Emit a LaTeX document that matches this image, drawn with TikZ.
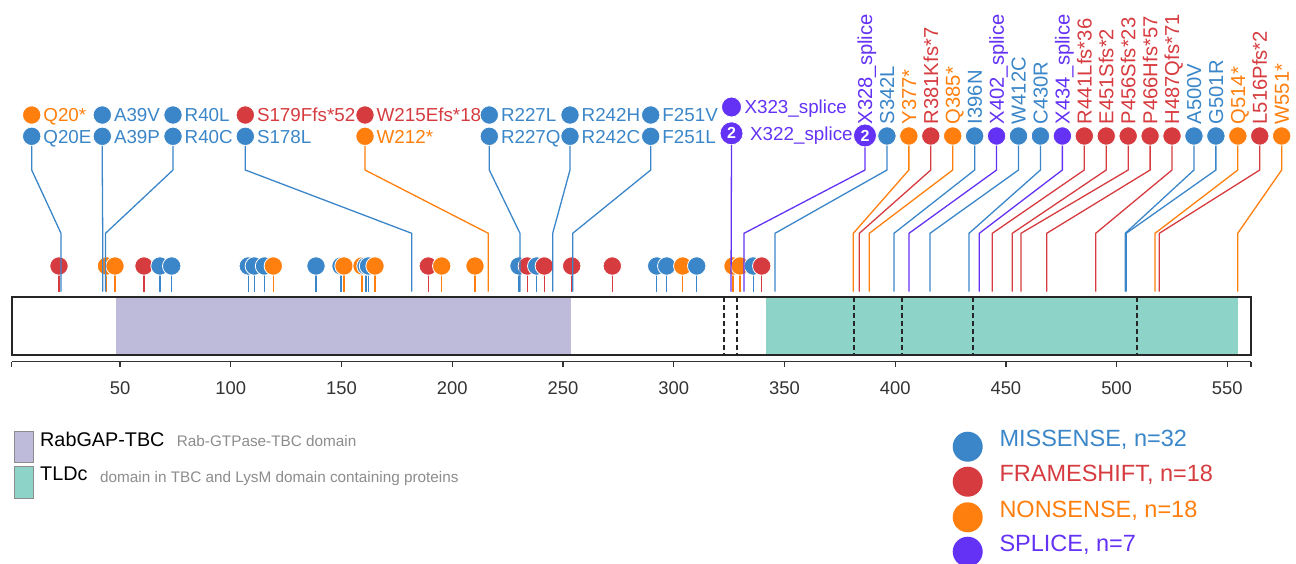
\documentclass[tikz,border=0pt]{standalone}
\usepackage{fontspec}
\setmainfont{Liberation Sans}
\definecolor{mblue}{HTML}{3A86C8}
\definecolor{mred}{HTML}{D63B3F}
\definecolor{morange}{HTML}{FF7F0E}
\definecolor{mpurple}{HTML}{6432F5}
\definecolor{rabc}{HTML}{BDBADA}
\definecolor{tldc}{HTML}{8DD3C7}
\definecolor{axisc}{HTML}{333333}
\definecolor{descc}{HTML}{8C8C8C}
\newcommand\lblfont{\fontsize{18.8}{20}\selectfont}
\newcommand\rotfont{\fontsize{20.2}{21}\selectfont}
\newcommand\tickfont{\fontsize{18.4}{20}\selectfont}
\newcommand\legfont{\fontsize{23.5}{26}\selectfont}
\newcommand\domfont{\fontsize{19.8}{22}\selectfont}
\newcommand\descfont{\fontsize{15.3}{17}\selectfont}
\begin{document}
\begin{tikzpicture}[x=1pt,y=-1pt,
  dot/.style={circle,inner sep=0pt,minimum size=18.4pt,fill=#1,draw=white,line width=0.8pt},
  numdot/.style={circle,inner sep=0pt,minimum size=23pt,fill=mpurple,draw=white,line width=0.8pt,text=white,font=\bfseries\fontsize{16}{16}\selectfont},
  conn/.style={draw=#1,line width=1.3pt},
  hlbl/.style={anchor=west,inner sep=0pt,font=\lblfont,text height=13.4pt,text depth=0pt,text=#1},
  rlbl/.style={anchor=west,rotate=90,inner sep=0pt,font=\rotfont,text height=14.4pt,text depth=0pt,text=#1},
  tlbl/.style={inner sep=0pt,font=\tickfont,text height=13.2pt,text depth=0pt,text=axisc},
  legsq/.style={draw=descc,fill=#1,line width=1pt,minimum width=18.7pt,inner sep=0pt,anchor=north west},
  legdot/.style={circle,fill=#1,inner sep=0pt,minimum size=30pt},
  legtxt/.style={anchor=base west,inner sep=0pt,font=\legfont,text=#1},
  domtxt/.style={anchor=base west,inner sep=0pt,font=\domfont,text=black},
  desctxt/.style={anchor=base west,inner sep=0pt,font=\descfont,text=descc},
  dashsep/.style={dash pattern=on 5pt off 3pt,line width=1.8pt,draw=black!85},
  axisline/.style={draw=axisc,line width=1.3pt}
]
\useasboundingbox (0,0) rectangle (1296,563);

% protein bar with domains
\fill[rabc] (116,297.3) rectangle (571,355);
\fill[tldc] (766,297.3) rectangle (1237.7,355);
\foreach \x in {723.7,737,854.3,901.7,972.7,1137}
  \draw[dashsep] (\x,297.3) -- (\x,355);
\draw[line width=1.8pt,draw=black!85] (11.7,297.3) rectangle (1251,355);

% axis
\draw[axisline] (11.7,361.7) -- (1251,361.7);
\foreach \x in {11.7,1251} \draw[axisline] (\x,361.7) -- (\x,367.2);
\foreach \r in {50,100,...,550} {
  \pgfmathsetmacro\xx{9.3+2.2146*\r}
  \draw[axisline] (\xx,361.7) -- (\xx,367.2);
  \node[tlbl] (tick\r) at (\xx,387.5) {\r};
}

% lower lollipops
\def\lowlist{59/mred, 106.5/morange, 115/morange, 144/mred, 160/mblue, 171.7/mblue,
  248.3/mblue, 254.3/mblue, 264.5/mblue, 273.3/morange, 316/mblue, 341/mblue, 344/morange,
  362/morange, 366/mblue, 368.5/mblue, 375/morange, 428.3/mred, 441.7/morange, 475/morange,
  519/mblue, 527.3/mred, 536.7/mblue, 544.3/mred, 571.7/mred, 612.3/mred,
  656.7/mblue, 666.7/mblue, 682.7/morange, 696.7/mblue,
  733/morange, 740/morange, 753.3/mblue, 761.7/mred}
\foreach \x/\c [count=\i] in \lowlist {
  \coordinate (lc\i) at (\x,266);
  \coordinate (ls\i) at (\x,291.7);
  \draw[conn=\c] (lc\i) -- (ls\i);
}
\foreach \x/\c [count=\i] in \lowlist {
  \node[dot=\c] (l\i) at (lc\i) {};
}

% upper horizontal label columns
\foreach \x/\la/\ca/\lb/\cb/\t/\cc [count=\i] in {
  31.7/Q20*/morange/Q20E/mblue/61/mblue,
  102.3/A39V/mblue/A39P/mblue/102.7/mblue,
  173/R40L/mblue/R40C/mblue/105.5/mblue,
  245.3/S179Ffs*52/mred/S178L/mblue/411.7/mblue,
  365/W215Efs*18/mred/W212*/morange/488.3/morange,
  489.3/R227L/mblue/R227Q/mblue/520/mblue,
  570/R242H/mblue/R242C/mblue/552.7/mblue,
  650.7/F251V/mblue/F251L/mblue/572.7/mblue} {
  \node[hlbl=\ca] (ta\i) at (\x+11.5,115) {\la};
  \node[hlbl=\cb] (tb\i) at (\x+11.5,136.3) {\lb};
  \node[dot=\ca] (ua\i) at (\x,115) {};
  \node[dot=\cb] (ub\i) at (\x,136.3) {};
  \coordinate (ut\i) at (\t,291.7);
  \draw[conn=\cc] (ub\i.south) -- (ub\i |- 0,170) -- (ut\i |- 0,233.3) -- (ut\i);
}

% splice column X322/X323
\node[hlbl=mpurple] (ta9) at (744.3,107) {X323\_splice};
\node[hlbl=mpurple] (tb9) at (750,133.3) {X322\_splice};
\node[dot=mpurple,minimum size=20pt] (ua9) at (731.5,107) {};
\node[numdot] (ub9) at (731.5,133.3) {2};
\coordinate (ut9) at (731,291.7);
\draw[conn=mpurple] (ub9.south) -- (ut9);

% rotated label columns
\node[rlbl=mpurple] (rl0) at (865,124.5) {X328\_splice};
\node[numdot] (r0) at (865,135.5) {2};
\coordinate (rt0) at (744,291.7);
\draw[conn=mpurple] (r0.south) -- (r0 |- 0,170) -- (rt0 |- 0,233.3) -- (rt0);
\foreach \k/\lab/\col/\t in {
  1/S342L/mblue/775,
  2/Y377*/morange/853.3,
  3/R381Kfs*7/mred/859.3,
  4/Q385*/morange/869.3,
  5/I396N/mblue/894,
  6/X402\_splice/mpurple/909,
  7/W412C/mblue/930,
  8/C430R/mblue/969,
  9/X434\_splice/mpurple/979.3,
  10/R441Lfs*36/mred/992.3,
  11/E451Sfs*2/mred/1012.3,
  12/P456Sfs*23/mred/1021,
  13/P466Hfs*57/mred/1046.7,
  14/H487Qfs*71/mred/1095.7,
  15/A500V/mblue/1125.2,
  16/G501R/mblue/1126.2,
  17/Q514*/morange/1155,
  18/L516Pfs*2/mred/1159.3,
  19/W551*/morange/1237.7} {
  \pgfmathsetmacro\xx{865+21.93*\k}
  \node[rlbl=\col] (rl\k) at (\xx,124.5) {\lab};
  \node[dot=\col] (r\k) at (\xx,136) {};
  \coordinate (rt\k) at (\t,291.7);
  \draw[conn=\col] (r\k.south) -- (r\k |- 0,170) -- (rt\k |- 0,233.3) -- (rt\k);
}

% domain legend
\node[legsq=rabc,minimum height=31pt] (sq1) at (14,430.7) {};
\node[legsq=tldc,minimum height=32pt] (sq2) at (14,465.7) {};
\node[domtxt] (d1) at (40,446) {RabGAP-TBC};
\node[desctxt] (e1) at (176.7,446) {Rab-GTPase-TBC domain};
\node[domtxt] (d2) at (40,480) {TLDc};
\node[desctxt] (e2) at (100,482) {domain in TBC and LysM domain containing proteins};

% mutation-type legend
\foreach \c/\txt/\y [count=\i] in {mblue/{MISSENSE, n=32}/446.7, mred/{FRAMESHIFT, n=18}/481.7, morange/{NONSENSE, n=18}/517.3, mpurple/{SPLICE, n=7}/551.7} {
  \node[legdot=\c] (lg\i) at (967.7,\y) {};
  \node[legtxt=\c] (lt\i) at (999.3,\y) {\txt};
}
\end{tikzpicture}
\end{document}
